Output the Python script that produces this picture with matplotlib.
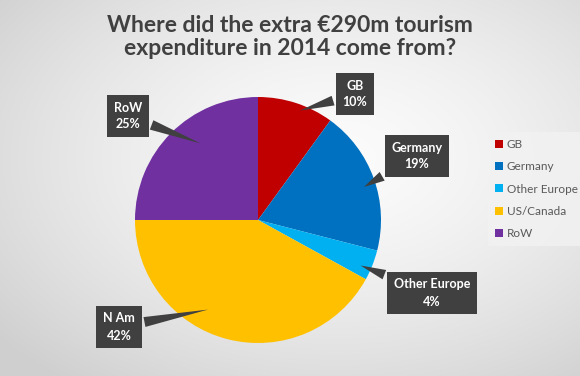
import numpy as np
import matplotlib
matplotlib.use("Agg")
import matplotlib.pyplot as plt

# ---- data ----
categories = ["GB", "Germany", "Other Europe", "US/Canada", "RoW"]
pie_labels = ["GB", "Germany", "Other Europe", "N Am", "RoW"]
shares = [10, 19, 4, 42, 25]
colors = ["#C00000", "#0070C0", "#00B0F0", "#FFC000", "#7030A0"]
title = "Where did the extra €290m tourism\nexpenditure in 2014 come from?"

W, H = 580, 376
plt.rcParams['font.family'] = ['Lato', 'DejaVu Sans']
fig = plt.figure(figsize=(W / 100, H / 100), dpi=100)

# background gradient
bg = fig.add_axes([0, 0, 1, 1])
yy, xx = np.mgrid[0:H, 0:W]
cx, cy = 0.58 * W, 0.42 * H
d = np.sqrt(((xx - cx) / W) ** 2 + ((yy - cy) / H) ** 2)
v = 0.985 - 0.17 * np.clip(d / 0.75, 0, 1) ** 1.5
bg.imshow(np.dstack([v, v, v]), extent=[0, 1, 0, 1], aspect='auto', origin='upper')
bg.axis('off')

# pie axes
pcx, pcy, r = 258, 220, 123
ax = fig.add_axes([(pcx - r) / W, (H - pcy - r) / H, 2 * r / W, 2 * r / H])
wedges, _ = ax.pie(shares, colors=colors, startangle=90, counterclock=False,
                   radius=1.0, wedgeprops=dict(linewidth=0))
ax.set_xlim(-1, 1)
ax.set_ylim(-1, 1)
ax.set_aspect('auto')
ax.axis('off')

# callout labels: (box centre in px, tip angle deg, tip radius)
callouts = [
    ((355, 94), 70, 0.94),
    ((417, 156), 17, 0.88),
    ((432, 293), -24, 0.89),
    ((119, 327), 242, 0.82),
    ((128, 116), 126, 0.76),
]
for lab, val, ((bx, by), ang, rr) in zip(pie_labels, shares, callouts):
    tip = (rr * np.cos(np.radians(ang)), rr * np.sin(np.radians(ang)))
    ax.annotate(f"{lab}\n{val}%", xy=tip, xycoords='data',
                xytext=(bx / W, 1 - by / H), textcoords='figure fraction',
                ha='center', va='center', color='white', fontsize=9,
                fontweight='bold', linespacing=1.5, annotation_clip=False,
                bbox=dict(boxstyle='square,pad=0.55', fc='#404040', ec='none'),
                arrowprops=dict(arrowstyle='wedge,tail_width=0.8,shrink_factor=0.5',
                                fc='#404040', ec='none'))

# title
fig.text(290 / W, 1 - 37 / H, title, ha='center', va='center', fontsize=16.5,
         fontweight='bold', color='#404040', linespacing=1.15)

# legend
leg = fig.legend(wedges, categories, loc='upper left',
                 bbox_to_anchor=(488 / W, 1 - 132 / H), frameon=True,
                 fontsize=8.5, handlelength=0.65, handleheight=0.65,
                 handletextpad=0.35, labelspacing=0.95, labelcolor='#595959',
                 borderaxespad=0, borderpad=0.6, fancybox=False)
leg.get_frame().set_facecolor('#f2f2f2')
leg.get_frame().set_edgecolor('none')
leg.get_frame().set_alpha(0.8)

fig.savefig("out.png", dpi=100)
